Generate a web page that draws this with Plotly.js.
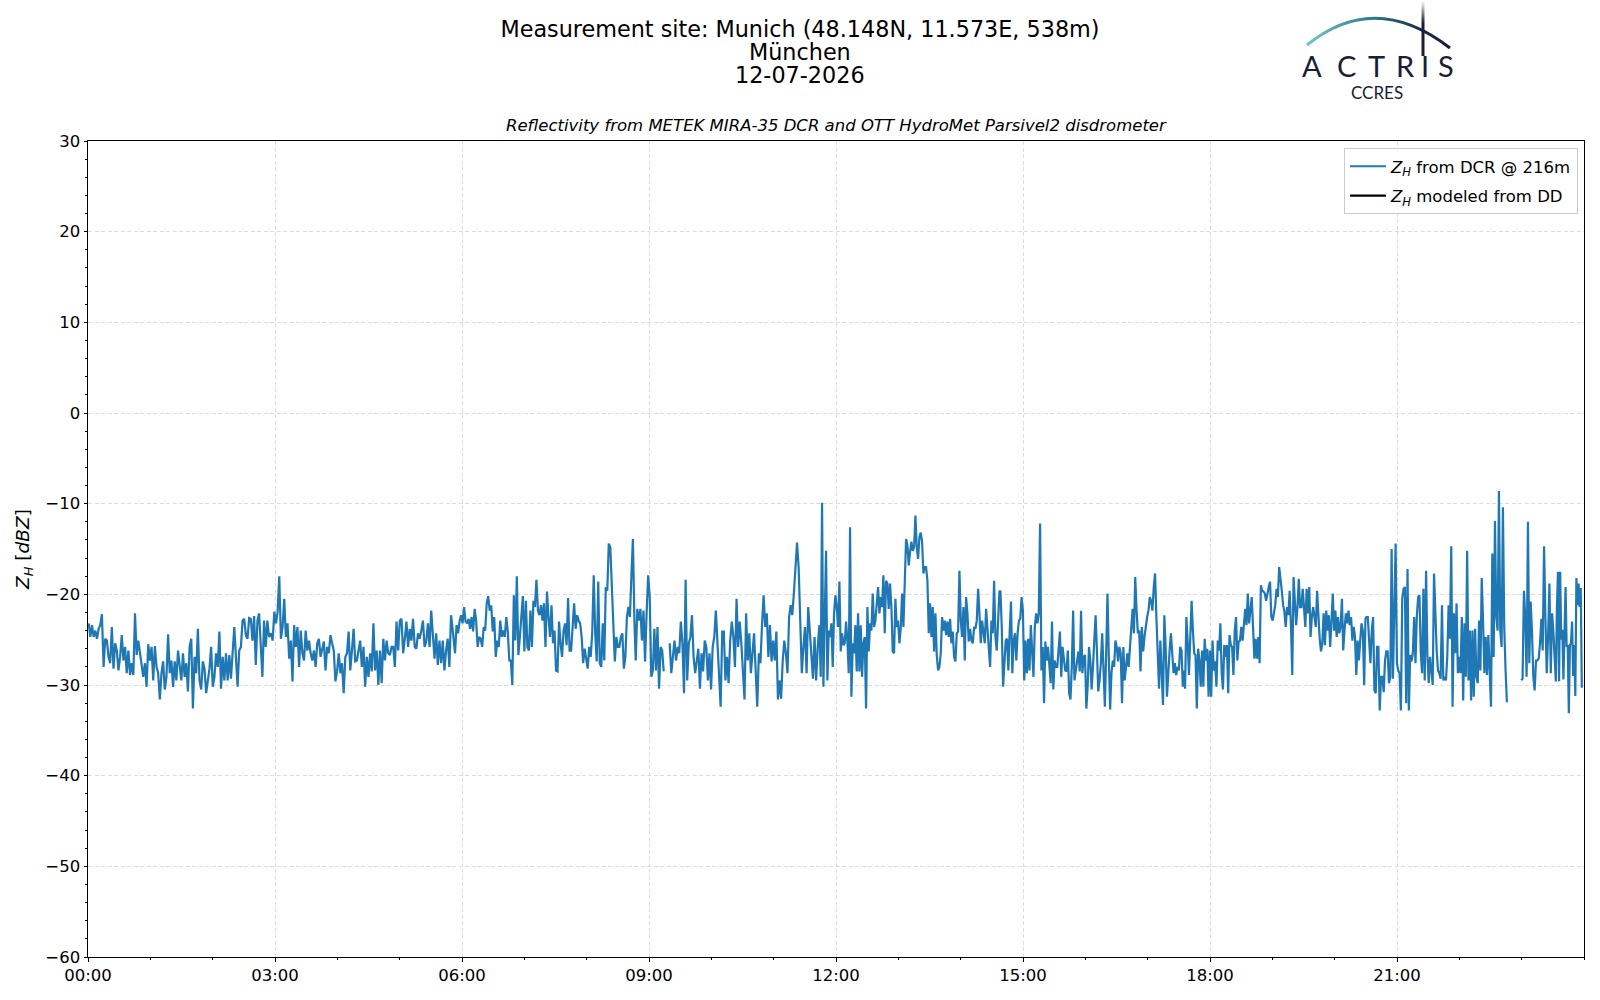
<!DOCTYPE html>
<html><head><meta charset="utf-8">
<script src="https://cdn.plot.ly/plotly-3.0.1.min.js"></script>
<style>html,body{margin:0;padding:0;background:#fff}#chart{width:1600px;height:1000px}</style>
</head><body><div id="chart"></div><script>
// ---- data (hours of day, reflectivity in dBZ) ----
const zhSeg1 = [-23.2,-24.7,-23.4,-24.7,-24.0,-24.9,-23.8,-23.4,-22.2,-28.0,-24.9,-25.1,-26.9,-27.6,-23.6,-28.2,-25.4,-26.2,-28.4,-26.9,-24.5,-27.3,-25.8,-28.7,-26.2,-28.9,-27.6,-28.9,-22.1,-26.7,-25.1,-26.5,-28.0,-29.1,-27.6,-30.2,-25.5,-27.3,-25.8,-29.5,-25.7,-28.0,-28.7,-31.6,-28.7,-27.4,-30.5,-29.1,-24.4,-28.7,-27.3,-30.2,-27.4,-29.5,-26.2,-28.0,-29.5,-26.5,-29.1,-27.6,-30.7,-25.8,-24.9,-32.6,-26.9,-28.7,-23.8,-29.5,-30.5,-27.4,-28.2,-30.9,-29.5,-28.2,-25.8,-30.2,-29.1,-26.5,-28.0,-24.1,-30.4,-26.9,-29.5,-26.5,-29.5,-26.7,-29.3,-26.5,-23.6,-26.9,-30.2,-26.2,-25.8,-22.9,-22.7,-24.5,-24.9,-22.6,-22.7,-25.1,-22.4,-27.8,-22.9,-22.1,-25.4,-29.1,-22.9,-25.8,-22.9,-24.7];
const zhSeg2 = [-24.3,-25.1,-21.9,-23.2,-21.9,-18.0,-24.9,-23.6,-20.5,-24.7,-23.2,-27.1,-25.1,-29.6,-23.4,-25.8,-23.6,-28.0,-24.0,-26.5,-27.3,-24.0,-26.2,-25.1,-26.5,-27.3,-26.2,-28.0,-25.4,-24.9,-26.9,-26.2,-25.2,-28.4,-25.8,-26.5,-24.5,-25.4,-26.2,-29.6,-28.5,-26.5,-28.7,-27.6,-30.9,-26.9,-26.5,-24.1,-28.4,-26.2,-23.8,-27.4,-27.3,-26.2,-25.1,-28.0,-25.8,-30.2,-26.9,-29.1,-26.5,-28.5,-23.2,-28.4,-26.2,-30.0,-26.2,-29.8,-24.9,-27.3,-25.1,-26.5,-26.7,-25.8,-25.8,-28.0,-23.0,-26.2,-22.9,-22.7,-26.5,-24.9,-23.0,-25.8,-23.8,-25.1,-22.7,-25.8,-26.0,-24.3,-24.9,-24.0,-22.9,-25.8,-25.2,-23.2,-25.8,-21.8,-25.1,-27.1,-24.3,-27.8,-25.1,-27.6,-25.1,-28.4,-26.2,-24.9,-28.0,-22.3];
const zhSeg3 = [-23.2,-24.7,-26.5,-23.4,-24.3,-23.0,-22.3,-23.2,-21.4,-23.0,-23.2,-22.7,-23.8,-22.5,-24.1,-21.6,-22.9,-25.8,-24.7,-24.9,-25.8,-23.6,-24.0,-21.0,-20.2,-21.8,-21.2,-24.1,-22.5,-26.9,-25.1,-25.8,-22.9,-24.7,-24.0,-24.7,-22.5,-24.1,-27.3,-27.3,-30.0,-20.1,-25.1,-18.0,-26.7,-24.7,-22.1,-20.2,-26.3,-20.7,-25.8,-26.2,-21.8,-25.8,-20.7,-21.4,-18.4,-21.8,-22.3,-21.2,-22.9,-21.0,-25.8,-19.7,-22.5,-24.7,-21.2,-25.4,-24.0,-28.4,-28.5,-23.0,-25.4,-26.9,-24.0,-23.2,-25.6,-20.4,-26.2,-26.2,-23.6,-21.0,-23.8,-22.3,-22.9,-23.2,-24.7,-27.6,-26.0,-26.9,-28.2,-25.8,-26.9,-24.3,-17.9,-24.3,-27.4,-18.6,-27.6,-28.0,-23.2,-27.3,-19.2,-19.6,-14.4,-14.8,-19.6,-24.0,-27.4,-24.7,-25.8,-25.8,-24.7,-24.3,-28.2,-26.9,-22.5,-21.4,-22.5,-17.9,-13.9,-22.9];
const zhSeg4 = [-27.3,-21.6,-22.9,-21.6,-25.1,-21.8,-27.4,-22.1,-17.9,-20.3,-29.1,-28.4,-23.8,-28.4,-23.6,-30.4,-25.8,-26.2,-28.5];
const zhSeg5 = [-25.4,-28.7,-26.9,-25.1,-27.3,-25.8,-26.5,-23.0,-25.4,-30.9,-18.4,-29.5,-25.4,-24.7,-22.3,-26.9,-28.7,-27.4,-26.0,-30.4,-26.5,-28.5,-25.1,-25.8,-29.5,-26.5,-30.5,-25.8,-24.7,-21.8,-25.8,-29.5,-32.4,-24.1,-24.1,-29.5,-26.9,-29.8,-25.1,-23.0,-24.7,-28.0,-20.5,-25.8,-23.0,-25.4,-28.0,-31.6,-22.1,-27.3,-24.3,-28.7,-26.5,-24.3,-28.4,-32.4,-26.5,-27.6,-23.4,-20.1,-23.6,-22.1,-26.9,-23.4,-27.4,-25.1,-27.3,-24.1,-31.6,-29.5,-31.5,-27.3,-25.1,-26.5,-28.7,-22.5,-21.2,-22.3,-19.9,-17.0,-14.3,-17.0,-23.6,-28.7,-25.8,-23.6,-28.7,-21.4,-24.0,-26.2,-29.3,-24.7,-29.5,-25.8];
const zhSeg6 = [-25.1,-23.4,-29.1,-9.9,-30.2,-22.9,-15.2,-29.5,-24.0,-24.7,-23.2,-28.0,-22.1,-20.1,-21.4,-23.6,-18.6,-26.3,-24.3,-25.6,-25.4,-23.0,-25.1,-28.7,-12.6,-31.3,-25.4,-26.5,-23.4,-28.5,-22.1,-28.5,-23.4,-29.1,-25.4,-24.7,-32.6,-21.4,-26.3,-23.2,-24.0,-19.9,-23.6,-22.9,-21.4,-19.2,-22.1,-20.3,-21.4,-17.9,-24.3,-18.5,-18.8,-21.6,-18.8,-21.4,-26.3,-26.5,-20.5,-23.6,-22.9,-25.4,-23.8,-19.9,-23.6,-19.6,-13.9,-14.6,-16.8,-15.3,-14.2,-15.2,-14.8,-11.3,-14.8,-16.1,-13.7,-13.2,-14.2,-17.7,-17.0,-17.0,-18.5,-24.3,-21.0,-24.7,-21.4,-26.3,-22.1,-26.7,-28.4,-28.0,-26.5,-22.5,-24.0,-22.9,-24.5,-23.0,-24.7,-22.7,-25.4,-24.1,-26.9,-27.4,-24.3,-24.1,-17.4,-22.9,-24.7,-21.4,-27.3,-20.3,-22.1,-25.2,-23.8,-25.1,-25.4,-23.6,-23.8,-22.9,-19.4,-22.1,-25.4,-22.9,-24.3,-25.4,-21.6,-23.6,-25.8,-28.0,-22.9,-24.3,-18.5,-24.7,-26.2,-23.2,-19.7];
const zhSeg7 = [-19.6,-23.6,-30.2,-26.9,-25.1,-24.9,-28.4,-24.1,-20.8,-28.7,-25.1,-24.3,-27.3,-24.3,-22.9,-22.7,-20.3,-21.8,-29.5,-25.1,-28.7,-24.9,-28.4,-23.4,-26.9,-29.1,-23.6,-22.1,-23.2,-22.1,-12.2,-28.4,-25.8,-32.0,-25.2,-27.3,-25.8,-27.6,-29.8,-23.0,-30.5,-27.3,-28.0,-28.0,-25.8,-24.1,-29.1,-25.8,-27.1,-28.4,-28.5,-26.2,-30.9,-31.6,-28.0,-21.8,-29.5,-28.4,-26.9,-26.3,-28.5,-21.8,-28.7,-26.9,-26.7,-32.6,-30.2,-25.8,-27.3,-30.5,-28.0,-24.3,-22.3,-26.2,-30.7,-29.5,-27.6,-24.3,-29.5,-32.4,-26.5,-19.9,-26.9,-32.7,-28.7,-27.3,-28.0,-25.1,-25.8,-27.4,-25.8,-26.5,-32.0,-25.8,-29.5,-27.6,-26.5,-28.0,-25.8,-23.6,-21.6,-24.3,-18.1,-21.8,-24.3,-24.0,-28.5,-23.6,-26.3,-24.7,-23.2,-22.5,-21.8,-20.3,-20.7,-21.8,-19.2,-17.7,-22.5,-26.9,-30.4,-25.1,-29.8,-32.2,-22.3,-25.8,-31.3,-28.0,-26.2,-24.3,-26.9,-28.7,-27.6,-28.9,-28.0,-28.4,-25.8,-26.2,-30.2];
const zhSeg8 = [-28.4,-30.4,-22.5,-25.2,-28.9,-24.7,-20.7,-24.0,-26.5,-26.7,-32.6,-26.0,-27.3,-30.2,-26.2,-30.2,-24.9,-27.3,-26.0,-31.3,-26.2,-31.3,-25.1,-28.4,-27.4,-30.2,-25.1,-26.2,-23.2,-28.7,-30.5,-25.6,-26.9,-25.6,-30.9,-24.5,-25.6,-25.8,-28.9,-24.0,-22.5,-27.3,-25.2,-25.1,-23.6,-25.1,-23.6,-21.6,-23.4,-19.9,-23.2,-21.8,-20.3,-23.6,-27.1,-24.9,-27.1,-24.7,-27.6,-19.0,-19.6,-19.7,-19.9,-20.7,-19.7,-19.2,-18.6,-22.5,-22.9,-22.1,-21.2,-19.4,-20.3,-17.0,-18.8,-19.6,-21.2,-21.9,-23.6,-21.4,-22.3,-19.6,-23.4,-28.9,-18.1,-21.8,-23.4,-21.4,-18.3,-21.4,-21.4,-19.4,-21.4,-23.6,-19.4,-22.1,-19.2,-24.7,-22.5,-21.4,-22.5,-23.6,-19.6,-22.5,-24.9,-26.3,-25.4,-22.1,-25.6,-21.8,-24.0,-22.3,-25.8,-23.0,-19.9,-24.0,-21.8,-24.7,-22.5,-24.3,-23.6,-20.5,-26.2,-23.9,-22.1,-23.2,-21.8,-23.4,-22.5,-25.1,-23.6,-24.7,-28.9,-25.1,-27.3,-25.1,-23.2,-24.0,-30.0,-22.7];
const zhSeg9 = [-22.5,-22.5,-25.4,-27.6,-24.0,-22.5,-30.6,-30.9,-25.8,-25.8,-32.8,-29.1,-29.1,-30.8,-27.3,-26.3,-26.3,-29.8,-29.1,-15.0,-29.3,-23.0,-14.4,-27.6,-28.4,-28.7,-32.8,-20.5,-19.4,-19.2,-32.0,-17.2,-32.8,-26.7,-27.4,-26.5,-22.5,-27.6,-22.5,-20.3,-20.1,-26.5,-28.7,-19.4,-29.5,-17.4,-26.7,-29.8,-26.9,-28.4,-30.0,-17.7,-22.1,-26.2,-28.4,-28.7,-29.3,-21.2,-29.5,-29.1,-29.5,-26.9,-21.2,-24.9,-14.7,-32.4,-22.1,-26.5,-21.0,-28.7,-26.9,-28.7,-22.5,-31.7,-23.2,-29.1,-15.2,-29.5,-24.0,-31.7,-24.0,-31.3,-23.8,-29.1,-29.8,-22.9,-28.4,-18.2,-22.9,-28.7,-24.7,-28.9,-24.5,-28.0,-32.4,-15.5,-26.9,-11.9,-22.5,-24.0,-8.6,-24.0,-25.8,-10.4,-23.6,-28.4,-31.9];
const zhSeg10 = [-29.5,-29.3,-19.6,-22.5,-29.1,-12.0,-27.6,-20.8,-24.0,-29.1,-30.6,-27.3,-27.3,-27.1,-25.4,-22.7,-26.2,-14.7,-22.5,-28.7,-24.7,-18.8,-28.7,-22.1,-24.3];
const zhSeg11 = [-29.6,-21.5,-17.5,-29.6,-17.5,-25.0,-23.9,-29.4,-25.2,-19.2,-25.8,-25.6,-33.1,-25.6,-25.4,-23.0,-29.0,-25.6,-31.2,-18.2,-21.2,-18.8,-21.4,-19.3,-30.3];
// start / end hour of each recorded stretch, and whether a data gap precedes it
const segStart = [0.011, 2.936, 5.840, 8.787, 9.332, 11.712, 14.638, 17.579, 20.510, 22.993, 23.548];
const segEnd   = [2.904, 5.824, 8.766, 9.236, 11.707, 14.622, 17.564, 20.494, 22.763, 23.510, 23.965];
const gapBefore = [false, false, false, false, true, false, false, false, false, true, false];
// modeled reflectivity from the disdrometer: no values on this day
const ddHours = [0];
const zhDD = [null];
// axis ticks
const tickHours = [0, 3, 6, 9, 12, 15, 18, 21];
const tickLabels = ['00:00', '03:00', '06:00', '09:00', '12:00', '15:00', '18:00', '21:00'];
// title lines
const titleLines = ['Measurement site: Munich (48.148N, 11.573E, 538m)', 'München', '12-07-2026'];

const segs = [zhSeg1, zhSeg2, zhSeg3, zhSeg4, zhSeg5, zhSeg6, zhSeg7, zhSeg8, zhSeg9, zhSeg10, zhSeg11];
const xs = [], ys = [];
segs.forEach((vals, i) => {
  if (gapBefore[i]) { xs.push((segStart[i] + segEnd[i - 1]) / 2); ys.push(null); }
  const n = vals.length;
  vals.forEach((v, j) => {
    xs.push(segStart[i] + (segEnd[i] - segStart[i]) * j / (n - 1));
    ys.push(v);
  });
});

// ---- layout geometry ----
const W = 1600, H = 1000, ML = 88, MR = 16, MT = 141, MB = 43;
const PW = W - ML - MR, PH = H - MT - MB;
const px = x => (x - ML) / PW;
const py = y => (H - MB - y) / PH;
const navy = '#1a1c38';

const logoSvg = '<svg xmlns="http://www.w3.org/2000/svg" width="170" height="62" viewBox="1295 0 170 62">' +
  '<defs><linearGradient id="g" gradientUnits="userSpaceOnUse" x1="1307" y1="0" x2="1450" y2="0">' +
  '<stop offset="0" stop-color="#74c6c4"/><stop offset="0.45" stop-color="#2b7d8c"/><stop offset="0.8" stop-color="#1d2a48"/><stop offset="1" stop-color="#1a1c38"/></linearGradient>' +
  '<linearGradient id="v" gradientUnits="userSpaceOnUse" x1="0" y1="1" x2="0" y2="56">' +
  '<stop offset="0" stop-color="#1a1c38" stop-opacity="0"/><stop offset="0.4" stop-color="#1a1c38" stop-opacity="1"/></linearGradient></defs>' +
  '<path d="M1307,45 Q1375,-10 1450,48" stroke="url(#g)" stroke-width="3" fill="none"/>' +
  '<line x1="1423" y1="1" x2="1423" y2="56" stroke="url(#v)" stroke-width="3"/></svg>';

const letters = ['A', 'C', 'T', 'R', 'I', 'S'];
const letterX = [1312, 1346, 1376, 1405, 1425, 1446];
const annotations = letters.map((t, i) => ({
  text: t, xref: 'paper', yref: 'paper', x: px(letterX[i]), y: py(65.5),
  xanchor: 'center', yanchor: 'middle', showarrow: false,
  font: {family: 'Lato, "DejaVu Sans", sans-serif', size: 29, color: navy}
}));
annotations.push({
  text: 'CCRES', xref: 'paper', yref: 'paper', x: px(1377), y: py(92.5),
  xanchor: 'center', yanchor: 'middle', showarrow: false,
  font: {family: 'Lato, "DejaVu Sans", sans-serif', size: 17, color: navy}
});
annotations.push({
  text: '<i>Reflectivity from METEK MIRA-35 DCR and OTT HydroMet Parsivel2 disdrometer</i>',
  xref: 'paper', yref: 'paper', x: 0.5, y: 1, xanchor: 'center', yanchor: 'bottom', yshift: 4,
  showarrow: false, font: {family: '"DejaVu Sans"', size: 16.5, color: '#000'}
});
[1, 2].forEach((k, i) => annotations.push({
  text: titleLines[k], xref: 'paper', yref: 'paper', x: px(W / 2), y: py([51.5, 75][i]),
  xanchor: 'center', yanchor: 'middle', showarrow: false,
  font: {family: '"DejaVu Sans"', size: 22.3, color: '#000'}
}));

const traces = [
  {x: xs, y: ys, type: 'scatter', mode: 'lines', name: '<i>Z</i><sub><i>H</i></sub> from DCR @ 216m',
   line: {color: '#1f77b4', width: 2.2}, connectgaps: false, legendgroup: 'a'},
  {x: ddHours, y: zhDD, type: 'scatter', mode: 'lines', name: '<i>Z</i><sub><i>H</i></sub> modeled from DD',
   line: {color: '#000000', width: 2.2}, legendgroup: 'b'}
];

const gridStyle = {showgrid: true, gridcolor: '#d4d4d4', gridwidth: 0.8, griddash: '4px,2.5px'};
const layout = {
  width: W, height: H,
  margin: {l: ML, r: MR, t: MT, b: MB, pad: 0},
  paper_bgcolor: '#fff', plot_bgcolor: '#fff',
  font: {family: '"DejaVu Sans", sans-serif', color: '#000', size: 16.5},
  title: {
    text: titleLines[0],
    xref: 'container', yref: 'container', x: 0.5, y: 1 - 28.8 / H, xanchor: 'center', yanchor: 'middle',
    font: {family: '"DejaVu Sans"', size: 22.3, color: '#000'}
  },
  showlegend: true,
  legend: {
    x: px(1578), y: py(148), xanchor: 'right', yanchor: 'top',
    bgcolor: 'rgba(255,255,255,0.85)', bordercolor: '#cccccc', borderwidth: 1,
    font: {size: 16.5}, tracegroupgap: 5, traceorder: 'grouped', itemwidth: 36
  },
  xaxis: Object.assign({
    range: [0, 24], tickmode: 'array', tickvals: tickHours, ticktext: tickLabels,
    ticks: 'outside', ticklen: 3.5, tickwidth: 1, tickcolor: '#000',
    showline: true, linecolor: '#000', linewidth: 1, mirror: true, zeroline: false,
    tickfont: {size: 16.5},
    minor: {tickmode: 'linear', tick0: 0, dtick: 1, ticks: 'outside', ticklen: 2, tickcolor: '#000', showgrid: false}
  }, gridStyle),
  yaxis: Object.assign({
    range: [-60, 30], tickmode: 'linear', tick0: 0, dtick: 10,
    ticks: 'outside', ticklen: 3.5, tickwidth: 1, tickcolor: '#000',
    showline: true, linecolor: '#000', linewidth: 1, mirror: true, zeroline: false,
    tickfont: {size: 16.5},
    title: {text: '<i>Z</i><sub><i>H</i></sub> [<i>dBZ</i>]', font: {size: 18.5}, standoff: 10},
    minor: {tickmode: 'linear', tick0: 0, dtick: 2, ticks: 'outside', ticklen: 2, tickcolor: '#000', showgrid: false}
  }, gridStyle),
  annotations: annotations,
  images: [{
    source: 'data:image/svg+xml;charset=utf-8,' + encodeURIComponent(logoSvg),
    xref: 'paper', yref: 'paper', x: px(1295), y: py(0), sizex: 170 / PW, sizey: 62 / PH,
    xanchor: 'left', yanchor: 'top', sizing: 'stretch', layer: 'above'
  }]
};

Plotly.newPlot('chart', traces, layout, {displayModeBar: false, staticPlot: true});
</script></body></html>
